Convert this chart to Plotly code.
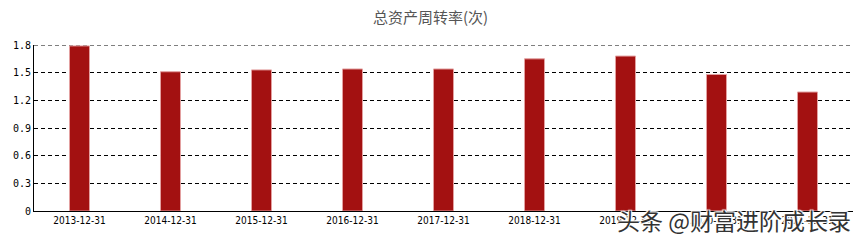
import plotly.graph_objects as go

categories = ["2013-12-31", "2014-12-31", "2015-12-31", "2016-12-31", "2017-12-31",
              "2018-12-31", "2019-12-31", "2020-12-31", "2021-12-31"]
values = [1.79, 1.51, 1.53, 1.54, 1.54, 1.65, 1.68, 1.48, 1.29]
y_ticks = [0, 0.3, 0.6, 0.9, 1.2, 1.5, 1.8]
y_tick_labels = ["0", "0.3", "0.6", "0.9", "1.2", "1.5", "1.8"]
title_text = "总资产周转率(次)"
watermark = "头条 @财富进阶成长录"

fig = go.Figure()
fig.add_trace(go.Bar(
    x=categories, y=values,
    width=0.22,
    marker=dict(color="#A31111", line=dict(color="#E3A0A0", width=1)),
))

fig.update_layout(
    width=861, height=241,
    margin=dict(l=34, r=8, t=45, b=30),
    paper_bgcolor="white", plot_bgcolor="white",
    showlegend=False,
    title=dict(text=title_text, x=0.5, xanchor="center", y=0.925, yanchor="middle",
               font=dict(family="Noto Sans CJK SC", size=15, color="#555555")),
    font=dict(family="DejaVu Sans", size=10, color="black"),
)
fig.update_xaxes(
    type="category",
    showline=True, linecolor="black", linewidth=1,
    showgrid=False, ticks="", tickfont=dict(size=10, family="DejaVu Sans Condensed"),
)
fig.update_yaxes(
    range=[0, 1.8], tickvals=y_ticks, ticktext=y_tick_labels,
    showline=True, linecolor="black", linewidth=1,
    showgrid=True, gridcolor="black", griddash="4px,3px", gridwidth=1,
    zeroline=False, ticks="", tickfont=dict(size=10, family="DejaVu Sans Mono"),
)
# top gridline (hidden by plotly at the range edge)
fig.add_shape(type="line", xref="paper", yref="y", x0=0, x1=1, y0=y_ticks[-1], y1=y_ticks[-1],
              line=dict(color="black", width=1, dash="4px,3px"), layer="below")
fig.add_annotation(
    text=watermark, xref="paper", yref="paper", x=1.0, y=0.06,
    xanchor="right", yanchor="top", showarrow=False,
    font=dict(family="Noto Sans CJK SC", size=23, color="#333333",
              shadow="1px 1px 1px white, -1px -1px 1px white, 1px -1px 1px white, -1px 1px 1px white"),
)
fig.write_html("out.html")
